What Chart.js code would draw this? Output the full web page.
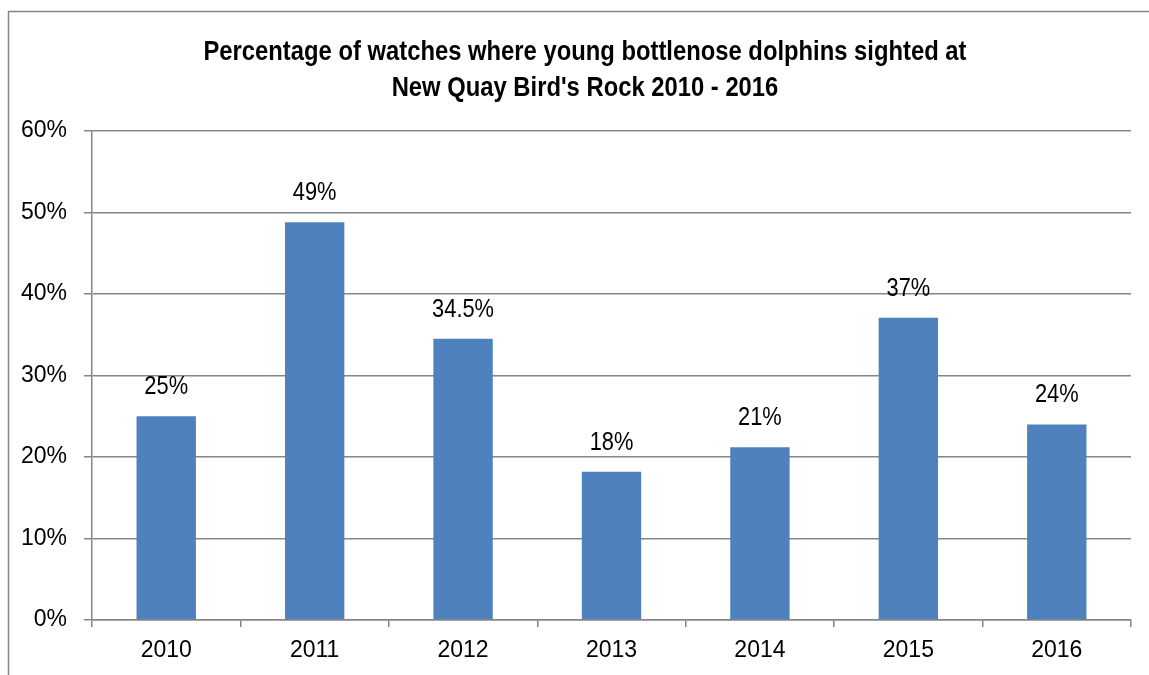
<!DOCTYPE html>
<html>
<head>
<meta charset="utf-8">
<script src="https://cdn.jsdelivr.net/npm/chart.js@4"></script>
<style>
  html, body { margin: 0; padding: 0; background: #fff; }
  #wrap { width: 1149px; height: 675px; position: relative; }
</style>
</head>
<body>
<div id="wrap"><canvas id="dolphinChart" width="1149" height="675"></canvas></div>
<script>
// ==========================================
// DATA
// ==========================================
const years = ['2010', '2011', '2012', '2013', '2014', '2015', '2016'];
const sightedPct = [25, 48.8, 34.5, 18.2, 21.2, 37.1, 24];
const pctLabels = ['25%', '49%', '34.5%', '18%', '21%', '37%', '24%'];
const yTicks = [0, 10, 20, 30, 40, 50, 60];
const chartTitle = [
    'Percentage of watches where young bottlenose dolphins sighted at',
    "New Quay Bird's Rock 2010 - 2016"
];

const FONT = '"Liberation Sans", Arial, sans-serif';
const GREY = '#868686';

// narrow-looking text: squeeze horizontally around the anchor point
function narrowText(c, text, x, y, sx) {
    c.save();
    c.translate(x, y);
    c.scale(sx, 1);
    c.fillText(text, 0, 0);
    c.restore();
}

// outer frame (only top and left edges are visible in the crop) + title
const framePlugin = {
    id: 'frame',
    beforeDraw(chart) {
        const c = chart.ctx;
        c.save();
        c.fillStyle = '#fff';
        c.fillRect(0, 0, chart.width, chart.height);
        c.strokeStyle = GREY;
        c.lineWidth = 1.5;
        c.beginPath();
        c.moveTo(8.5, chart.height);
        c.lineTo(8.5, 11.5);
        c.lineTo(chart.width, 11.5);
        c.stroke();

        c.fillStyle = '#000';
        c.font = 'bold 28px ' + FONT;
        c.textAlign = 'center';
        c.textBaseline = 'alphabetic';
        narrowText(c, chartTitle[0], 585, 60, 0.85);
        narrowText(c, chartTitle[1], 585, 96, 0.85);
        c.restore();
    }
};

// value labels above each bar
const valueLabels = {
    id: 'valueLabels',
    afterDatasetsDraw(chart) {
        const c = chart.ctx;
        const meta = chart.getDatasetMeta(0);
        c.save();
        c.font = '26px ' + FONT;
        c.fillStyle = '#000';
        c.textAlign = 'center';
        c.textBaseline = 'alphabetic';
        meta.data.forEach((bar, i) => {
            narrowText(c, pctLabels[i], bar.x, bar.y - 22, 0.84);
        });
        c.restore();
    }
};

new Chart(document.getElementById('dolphinChart'), {
    type: 'bar',
    data: {
        labels: years,
        datasets: [{
            data: sightedPct,
            backgroundColor: '#4F81BD',
            borderWidth: 0,
            barPercentage: 0.4,
            categoryPercentage: 1.0
        }]
    },
    options: {
        responsive: false,
        animation: false,
        events: [],
        layout: { padding: { left: 0, right: 18, top: 131, bottom: 0 } },
        plugins: {
            legend: { display: false },
            tooltip: { enabled: false },
            title: { display: false }
        },
        scales: {
            x: {
                grid: {
                    offset: true,
                    drawOnChartArea: false,
                    drawTicks: true,
                    tickLength: 7,
                    color: GREY,
                    lineWidth: 1.5
                },
                border: { color: GREY, width: 1.5 },
                ticks: { color: '#000', font: { family: FONT, size: 23 }, padding: 10 },
                afterFit(scale) { scale.height = 55; }
            },
            y: {
                min: 0,
                max: 60,
                afterBuildTicks(scale) {
                    scale.ticks = yTicks.map(v => ({ value: v }));
                },
                grid: { color: GREY, lineWidth: 1.5, tickLength: 8 },
                border: { color: GREY, width: 1.5 },
                ticks: {
                    color: '#000',
                    font: { family: FONT, size: 23 },
                    padding: 17,
                    callback: v => v + '%'
                },
                afterFit(scale) { scale.width = 92; }
            }
        }
    },
    plugins: [framePlugin, valueLabels]
});
</script>
</body>
</html>
